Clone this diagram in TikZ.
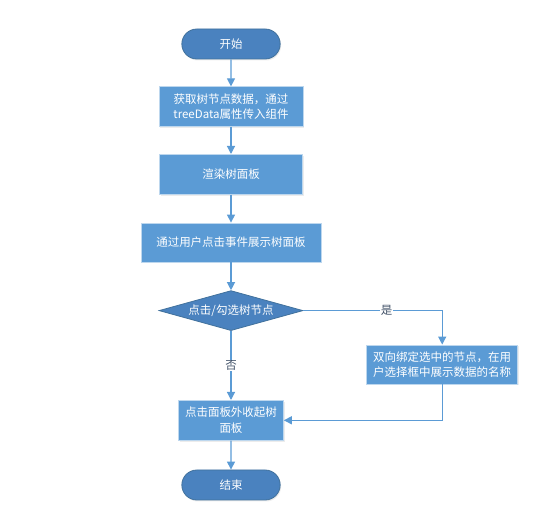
\documentclass[tikz,border=0pt]{standalone}
\usepackage{fontspec}
\setmainfont{Noto Sans CJK SC}
\usetikzlibrary{shapes.geometric, shapes.misc, arrows.meta, shadows, positioning}
\definecolor{boxblue}{HTML}{5B9BD5}
\definecolor{termblue}{HTML}{4A82BF}
\definecolor{edgeblue}{HTML}{41719C}
\definecolor{labelgray}{HTML}{44546A}

\begin{document}
\begin{tikzpicture}[x=1pt, y=1pt, node distance=27pt,
    every node/.style={font=\fontsize{11.5}{15.5}\selectfont, text=white},
    terminal/.style={rounded rectangle, draw=edgeblue, fill=termblue, line width=0.8pt,
        minimum width=105pt, minimum height=30pt,
        drop shadow={opacity=0.15, shadow xshift=1pt, shadow yshift=-1.5pt}},
    process/.style={rectangle, draw=boxblue!40!white, fill=boxblue, line width=0.6pt,
        minimum height=40pt, align=center, inner sep=2pt,
        drop shadow={opacity=0.15, shadow xshift=1pt, shadow yshift=-1.5pt}},
    decision/.style={diamond, aspect=3.6, draw=edgeblue, fill=termblue, line width=0.8pt,
        minimum width=144pt, minimum height=40pt, inner sep=0pt},
    flow/.style={draw=boxblue, line width=1.2pt, -{Triangle[width=8pt,length=8pt]}},
    tag/.style={fill=white, text=labelgray, inner sep=1pt}]
    \useasboundingbox (0,0) rectangle (542,-518);

    % Steps
    \node[terminal] (start) at (231,-44) {开始};
    \node[process, minimum width=144pt, below=of start] (fetch) {获取树节点数据，通过\\treeData属性传入组件};
    \node[process, minimum width=143pt, below=of fetch] (render) {渲染树面板};
    \node[process, minimum width=180pt, minimum height=39pt, below=28pt of render] (show) {通过用户点击事件展示树面板};
    \node[decision, below=28pt of show] (pick) {点击/勾选树节点};
    \node[process, minimum width=151pt, minimum height=39pt, below right=34pt and 63pt of pick.east] (bind) {双向绑定选中的节点，在用\\户选择框中展示数据的名称};
    \node[process, minimum width=105pt, below=69pt of pick] (collapse) {点击面板外收起树\\面板};
    \node[terminal, below=29pt of collapse] (stop) {结束};

    % Connectors
    \draw[flow] (start) -- (fetch);
    \draw[flow] (fetch) -- (render);
    \draw[flow] (render) -- (show);
    \draw[flow] (show) -- (pick);
    \draw[flow] (pick.east) -| node[tag, pos=0.3] {是} (bind.north);
    \draw[flow] (pick) -- node[tag] {否} (collapse);
    \draw[flow] (bind.south) |- (collapse.east);
    \draw[flow] (collapse) -- (stop);
\end{tikzpicture}
\end{document}
